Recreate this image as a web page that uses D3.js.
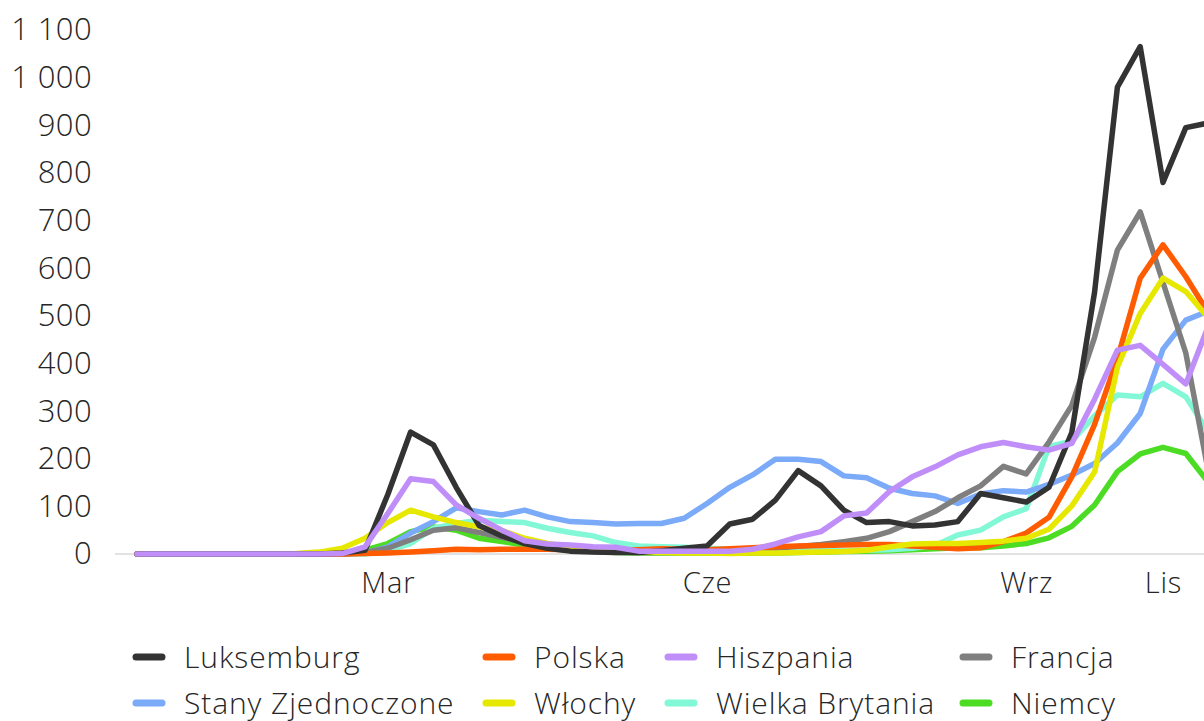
<!DOCTYPE html>
<html>
<head>
<meta charset="utf-8">
<script src="https://cdn.jsdelivr.net/npm/d3@7"></script>
<style>
  body { margin: 0; background: #fff; }
  svg { display: block; font-family: "Open Sans", sans-serif; }
</style>
</head>
<body>
<div id="chart"></div>
<script>
// week numbers (categories)
var weeks = [1, 2, 3, 4, 5, 6, 7, 8, 9, 10, 11, 12, 13, 14, 15, 16, 17, 18, 19, 20, 21, 22, 23, 24,
             25, 26, 27, 28, 29, 30, 31, 32, 33, 34, 35, 36, 37, 38, 39, 40, 41, 42, 43, 44, 45, 46, 47, 48];

// which weeks get a month label
var monthWeeks = [12, 26, 40, 46];
var monthNames = ["Mar", "Cze", "Wrz", "Lis"];

var yTicks = [0, 100, 200, 300, 400, 500, 600, 700, 800, 900, 1000, 1100];

var luksemburg = [0, 0, 0, 0, 0, 0, 0, 0, 0, 2, 8, 125, 256, 229, 140, 60, 38, 22, 12, 6, 4, 3, 3, 7,
                  12, 17, 63, 73, 113, 175, 143, 92, 66, 68, 59, 61, 68, 127, 118, 109, 140, 255, 550, 980, 1065, 780, 895, 905];
var polska = [0, 0, 0, 0, 0, 0, 0, 0, 0, 0, 1, 2, 4, 7, 10, 9, 10, 10, 10, 9, 8, 8, 9, 11,
              10, 9, 11, 13, 15, 17, 18, 19, 20, 20, 17, 14, 11, 13, 26, 44, 77, 162, 272, 410, 579, 649, 582, 505];
var hiszpania = [0, 0, 0, 0, 0, 0, 0, 0, 0, 1, 15, 85, 158, 152, 103, 75, 50, 28, 21, 19, 15, 14, 6, 6,
                 6, 6, 6, 10, 21, 36, 47, 80, 86, 131, 162, 183, 208, 225, 234, 225, 218, 232, 325, 428, 438, 398, 357, 480];
var francja = [0, 0, 0, 0, 0, 0, 0, 0, 0, 0, 3, 12, 30, 50, 55, 45, 35, 25, 15, 10, 6, 4, 3, 3,
               3, 4, 6, 8, 12, 16, 20, 26, 33, 47, 68, 89, 118, 143, 184, 168, 235, 312, 455, 638, 718, 570, 422, 170];
var stany = [0, 0, 0, 0, 0, 0, 0, 0, 0, 0, 2, 15, 44, 68, 97, 89, 82, 92, 78, 68, 66, 63, 64, 64,
             75, 106, 140, 166, 199, 199, 194, 164, 160, 138, 127, 122, 106, 126, 133, 130, 146, 166, 190, 233, 295, 430, 491, 510];
var wlochy = [0, 0, 0, 0, 0, 0, 0, 1, 4, 12, 33, 66, 92, 78, 66, 57, 49, 33, 22, 15, 10, 6, 4, 3,
              2, 2, 1, 2, 2, 3, 4, 5, 8, 15, 21, 22, 22, 24, 27, 33, 52, 101, 172, 392, 505, 579, 551, 495];
var brytania = [0, 0, 0, 0, 0, 0, 0, 0, 0, 0, 0, 7, 22, 54, 64, 71, 68, 66, 54, 45, 38, 24, 17, 15,
                14, 12, 10, 8, 7, 7, 7, 7, 8, 9, 12, 18, 40, 50, 78, 95, 226, 237, 290, 334, 330, 358, 330, 255];
var niemcy = [0, 0, 0, 0, 0, 0, 0, 0, 0, 0, 8, 22, 47, 57, 50, 33, 26, 19, 12, 8, 5, 3, 2, 2,
              2, 2, 2, 2, 2, 3, 4, 5, 6, 7, 9, 11, 13, 13, 17, 22, 34, 58, 103, 173, 210, 224, 211, 150];

var series = [
  { name: "Luksemburg", values: luksemburg, color: "#333333" },
  { name: "Polska", values: polska, color: "#ff5b00" },
  { name: "Hiszpania", values: hiszpania, color: "#c08ef8" },
  { name: "Francja", values: francja, color: "#7f7f7f" },
  { name: "Stany Zjednoczone", values: stany, color: "#7aaaf8" },
  { name: "Włochy", values: wlochy, color: "#e6e800" },
  { name: "Wielka Brytania", values: brytania, color: "#82f8d6" },
  { name: "Niemcy", values: niemcy, color: "#4cdc24" }
];

// drawing order (last one on top)
var drawOrder = ["Niemcy", "Wielka Brytania", "Stany Zjednoczone", "Francja", "Polska", "Włochy", "Luksemburg", "Hiszpania"];

var width = 1204, height = 721;

var svg = d3.select("#chart")
  .append("svg")
    .attr("width", width)
    .attr("height", height);

var x = d3.scalePoint()
    .domain(weeks)
    .range([137, 137 + 22.8 * (weeks.length - 1)]);

var y = d3.scaleLinear()
    .domain([0, 1100])
    .range([554, 30]);

var fmt = d3.formatLocale({ decimal: ",", thousands: " ", grouping: [3], currency: ["", " zł"] }).format(",");

// y axis labels (no line)
var yAxis = svg.append("g")
    .attr("transform", "translate(115,0)")
    .call(d3.axisLeft(y).tickValues(yTicks).tickSize(0).tickPadding(23).tickFormat(fmt));
yAxis.select(".domain").remove();
yAxis.selectAll("text")
    .attr("font-family", "Open Sans")
    .attr("font-weight", 300)
    .attr("font-size", 31)
    .attr("letter-spacing", 0.4)
    .attr("fill", "#262626");

// baseline
svg.append("line")
    .attr("x1", 115)
    .attr("x2", width)
    .attr("y1", y(0))
    .attr("y2", y(0))
    .attr("stroke", "#d9d9d9")
    .attr("stroke-width", 1.5);

// x axis month labels
var xAxis = svg.append("g")
    .attr("transform", "translate(0," + y(0) + ")")
    .call(d3.axisBottom(x).tickValues(monthWeeks).tickSize(0).tickPadding(18)
      .tickFormat(function(d) { return monthNames[monthWeeks.indexOf(d)]; }));
xAxis.select(".domain").remove();
xAxis.selectAll("text")
    .attr("font-family", "Open Sans")
    .attr("font-weight", 300)
    .attr("font-size", 29)
    .attr("letter-spacing", 0.8)
    .attr("fill", "#262626");

// lines
var line = d3.line()
    .x(function(d, i) { return x(weeks[i]); })
    .y(function(d) { return y(d); });

drawOrder.forEach(function(n) {
  var s = series.find(function(t) { return t.name === n; });
  svg.append("path")
      .datum(s.values)
      .attr("fill", "none")
      .attr("stroke", s.color)
      .attr("stroke-width", 5.5)
      .attr("stroke-linejoin", "round")
      .attr("stroke-linecap", "round")
      .attr("d", line);
});

// legend, 4 columns x 2 rows
var legendCols = [133, 483, 665, 960];
var legendRows = [657, 703];

var legend = svg.append("g");
series.forEach(function(s, i) {
  var lx = legendCols[i % 4], ly = legendRows[Math.floor(i / 4)];
  legend.append("line")
      .attr("x1", lx + 3)
      .attr("x2", lx + 29)
      .attr("y1", ly)
      .attr("y2", ly)
      .attr("stroke", s.color)
      .attr("stroke-width", 7)
      .attr("stroke-linecap", "round");
  legend.append("text")
      .attr("x", lx + 51)
      .attr("y", ly)
      .attr("dy", "0.35em")
      .attr("font-family", "Open Sans")
      .attr("font-weight", 300)
      .attr("font-size", 30)
      .attr("letter-spacing", 0.9)
      .attr("fill", "#262626")
      .text(s.name);
});
</script>
</body>
</html>
